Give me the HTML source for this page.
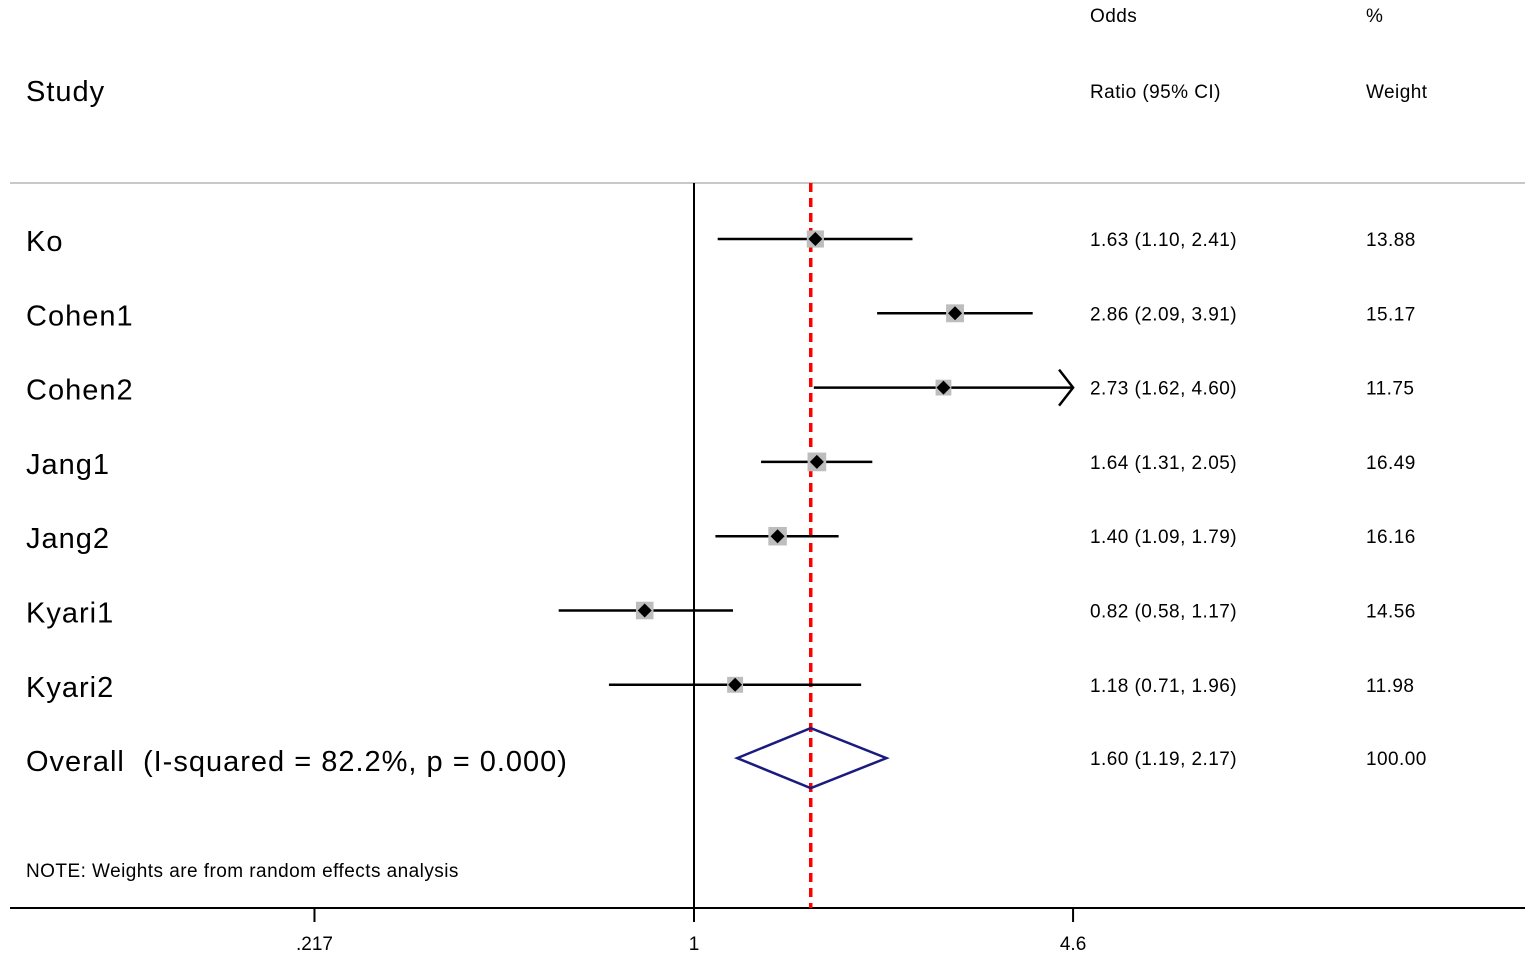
<!DOCTYPE html>
<html><head><meta charset="utf-8"><style>
html,body{margin:0;padding:0;background:#fff;}
svg{display:block;font-family:"Liberation Sans",Arial,sans-serif;}
.big{letter-spacing:1px;}
.sm{letter-spacing:0.45px;}
</style></head><body>
<svg id="chart" width="1535" height="958" viewBox="0 0 1535 958">
<g id="hdr">
<text class="big" x="26" y="101" font-size="29">Study</text>
<text class="sm" x="1090" y="22" font-size="19">Odds</text>
<text class="sm" x="1090" y="98" font-size="19">Ratio (95% CI)</text>
<text class="sm" x="1366" y="22" font-size="19">%</text>
<text class="sm" x="1366" y="98" font-size="19">Weight</text>
</g>
<line x1="10" y1="183" x2="1525" y2="183" stroke="#c8c8c8" stroke-width="2"/>
<line x1="10" y1="908" x2="1525" y2="908" stroke="#000" stroke-width="2"/>
<line x1="694" y1="183" x2="694" y2="908" stroke="#000" stroke-width="2"/>
<g id="marks"></g>
<text class="sm" x="26" y="877" font-size="19">NOTE: Weights are from random effects analysis</text>
</svg>
<script>
const studies = ["Ko","Cohen1","Cohen2","Jang1","Jang2","Kyari1","Kyari2"];
const orVals = [1.63,2.86,2.73,1.64,1.40,0.82,1.18];
const lowerVals = [1.10,2.09,1.62,1.31,1.09,0.58,0.71];
const upperVals = [2.41,3.91,4.60,2.05,1.79,1.17,1.96];
const weights = [13.88,15.17,11.75,16.49,16.16,14.56,11.98];
const overall = [1.60,1.19,2.17];
const overallLabel = "Overall  (I-squared = 82.2%, p = 0.000)";
const tickVals = [0.217,1,4.6];
const tickLabels = [".217","1","4.6"];
const xMax = 4.6;

const g = document.getElementById('marks');
const NS = 'http://www.w3.org/2000/svg';
function X(v){return 694 + Math.log(v)*248.4;}
function rowY(i){return 239 + i*74.3;}
function mk(tag, attrs){const e=document.createElementNS(NS,tag);for(const k in attrs)e.setAttribute(k,attrs[k]);g.appendChild(e);return e;}
function fmt(v){return v.toFixed(2);}

let rl = mk('line',{x1:X(overall[0]),y1:183,x2:X(overall[0]),y2:908,stroke:'#f00','stroke-width':3.5,'stroke-dasharray':'9 6'});



studies.forEach((s,i)=>{
  const y = rowY(i);
  const lab = mk('text',{x:26,y:y+12,'font-size':29,'class':'big'});
  lab.textContent = s;
  
  
  const hi = Math.min(upperVals[i], xMax);
  const ci = mk('line',{x1:X(lowerVals[i]),y1:y,x2:X(hi),y2:y,stroke:'#000','stroke-width':2.5});
  
  
  if (upperVals[i] >= xMax) {
    const ax = X(xMax);
    const ar = mk('polyline',{points:`${ax-14},${y-18} ${ax},${y} ${ax-14},${y+18}`,fill:'none',stroke:'#000','stroke-width':2.5});
    
    
  }
  const bs = 4.6*Math.sqrt(weights[i]);
  const box = mk('rect',{x:X(orVals[i])-bs/2,y:y-bs/2,width:bs,height:bs,fill:'#bdbdbd'});
  
  
  const px = X(orVals[i]);
  const d = mk('polygon',{points:`${px-7},${y} ${px},${y-7} ${px+7},${y} ${px},${y+7}`,fill:'#000'});
  
  
  const t = mk('text',{x:1090,y:y+7,'font-size':19,'class':'sm'});
  t.textContent = `${fmt(orVals[i])} (${fmt(lowerVals[i])}, ${fmt(upperVals[i])})`;
  
  
  const w = mk('text',{x:1366,y:y+7,'font-size':19,'class':'sm'});
  w.textContent = fmt(weights[i]);
  
  
});

const oy = rowY(7)-1;
const ol = mk('text',{x:26,y:oy+13,'font-size':29,'class':'big',style:'white-space:pre'});
ol.textContent = overallLabel;


const dm = mk('polygon',{points:`${X(overall[1])},${oy} ${X(overall[0])},${oy-30} ${X(overall[2])},${oy} ${X(overall[0])},${oy+30}`,fill:'none',stroke:'#1a1a80','stroke-width':2.5});


const ot = mk('text',{x:1090,y:oy+7,'font-size':19,'class':'sm'});
ot.textContent = `${fmt(overall[0])} (${fmt(overall[1])}, ${fmt(overall[2])})`;


const ow = mk('text',{x:1366,y:oy+7,'font-size':19,'class':'sm'});
ow.textContent = "100.00";



tickVals.forEach((v,i)=>{
  const tk = mk('line',{x1:X(v),y1:908,x2:X(v),y2:922,stroke:'#000','stroke-width':2});
  
  
  const tl = mk('text',{x:X(v),y:950,'font-size':19,'text-anchor':'middle'});
  tl.textContent = tickLabels[i];
  
  
});
</script>
</body></html>
